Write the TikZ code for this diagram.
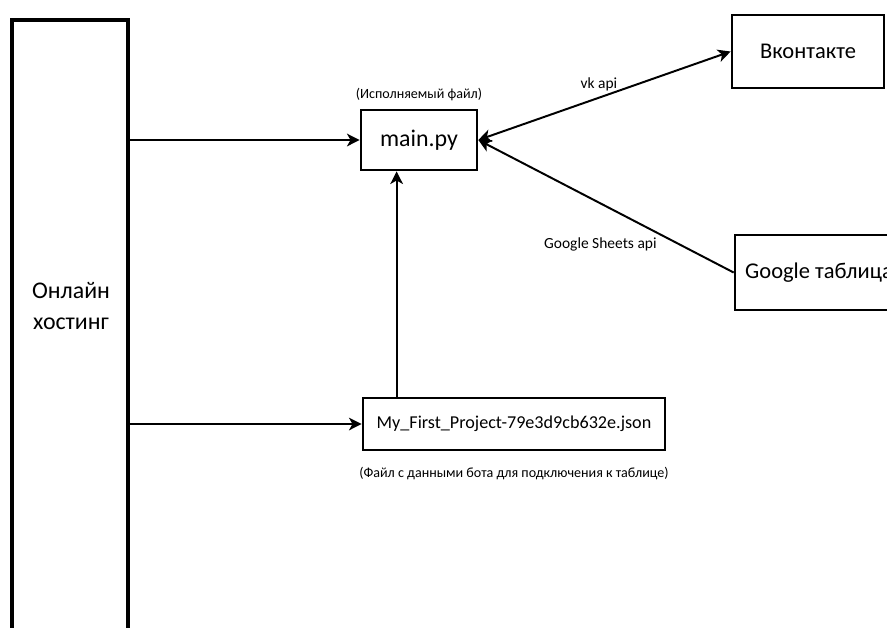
\documentclass[tikz,border=0pt]{standalone}
\usepackage{fontspec}
\setmainfont{Carlito}
\usetikzlibrary{arrows.meta,positioning,calc}

\begin{document}
\begin{tikzpicture}[x=0.025cm,y=-0.025cm,>={Stealth[length=9pt,width=9pt,inset=2.5pt]},
	box/.style={draw,line width=1.9pt,inner sep=0pt},
	arr/.style={->,line width=1.4pt},
	note/.style={inner sep=0pt,font=\fontsize{10}{11}\selectfont},
	lbl/.style={inner sep=0pt,font=\fontsize{11}{13}\selectfont}]
	\useasboundingbox (0,0) rectangle (887,627);
	\clip (0,0) rectangle (887,627);

	% hosting column runs off the bottom edge
	\node[box,line width=2.4pt,minimum width=2.9cm,minimum height=16.5cm] (host) at (70,350) {};
	\node[align=center,font=\fontsize{17}{22.7}\selectfont] (hostname) at (71,306) {Онлайн\\хостинг};

	\node[box,minimum width=2.9cm,minimum height=1.5cm,font=\fontsize{17}{20}\selectfont] (main) at (419,140) {main.py};
	\node[note] (mainnote) [above=0.2cm of main] {(Исполняемый файл)};

	\node[box,minimum width=3.8cm,minimum height=1.825cm,font=\fontsize{16}{19}\selectfont] (vk) at (808,51.5) {Вконтакте};
	\node[box,minimum width=4.2cm,minimum height=1.875cm,font=\fontsize{16}{19}\selectfont] (gs) at (819,272.5) {Google таблица};

	\node[box,minimum width=7.55cm,minimum height=1.3cm,font=\fontsize{12.9}{15}\selectfont] (json) at (514,424) {My\_First\_Project-79e3d9cb632e.json};
	\node[note] (jsonnote) [below=0.4cm of json] {(Файл с данными бота для подключения к таблице)};

	\coordinate (up) at ($(json.north west)+(35,0)$);

	\draw[arr] (host.east |- main.west) -- (main.west);
	\draw[arr] (host.east |- json.west) -- (json.west);
	\draw[arr] (up) -- (up |- main.south);
	\draw[arr,<->] (main.east) -- node[lbl,above=3pt,xshift=-4pt] {vk api} (vk.west);
	\draw[arr] (gs.west) -- node[lbl,below=22pt,xshift=-4pt] {Google Sheets api} (main.east);

\end{tikzpicture}
\end{document}
